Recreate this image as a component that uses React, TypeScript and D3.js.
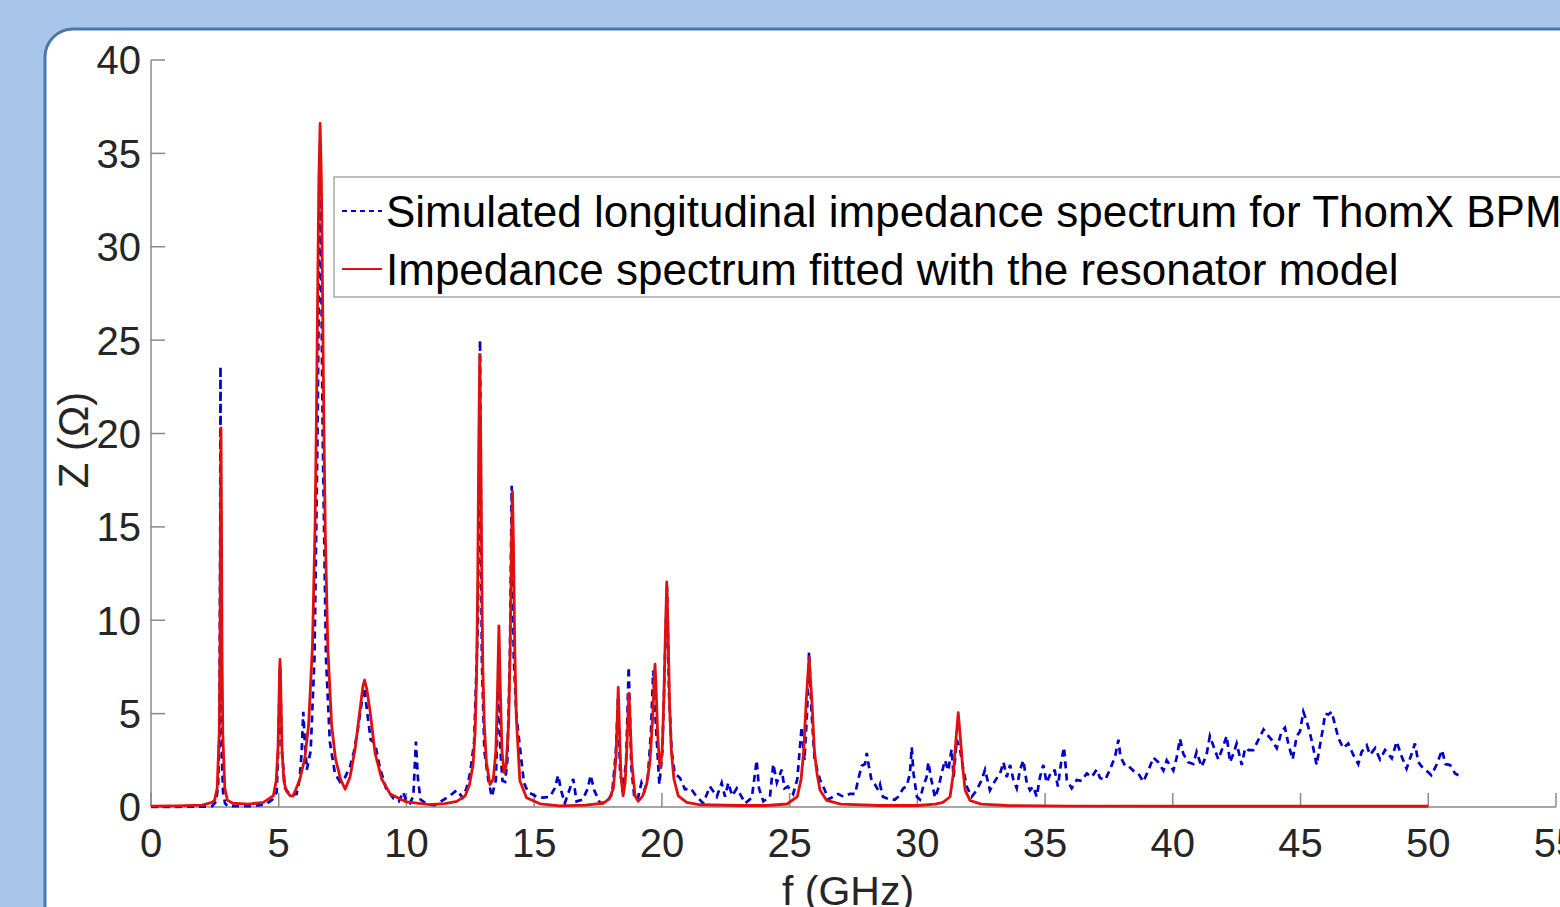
import React from "react";
import * as d3 from "d3";

// ---- data ----
const xTicks = [0, 5, 10, 15, 20, 25, 30, 35, 40, 45, 50, 55];
const yTicks = [0, 5, 10, 15, 20, 25, 30, 35, 40];

const legendLabels = [
  "Simulated longitudinal impedance spectrum for ThomX BPM",
  "Impedance spectrum fitted with the resonator model",
];

// simulated impedance (f GHz, Z ohm)
const simulated: [number, number][] = [
  [0, 0.01], [1, 0.01], [2, 0.02], [2.4, 0.05], [2.55, 0.3], [2.63, 1.2], [2.68, 4], [2.71, 15], [2.72, 23.6], [2.74, 12], [2.77, 3], [2.82, 0.8], [2.9, 0.2], [3.0, 0.05],
  [4.0, 0.05], [4.5, 0.15], [4.75, 0.4], [4.92, 0.8], [4.98, 3], [5.05, 7.6], [5.12, 3], [5.25, 1.0], [5.45, 0.65], [5.7, 0.7], [5.82, 1.5], [5.9, 3], [5.96, 5.1], [6.02, 3.5], [6.1, 2],
  [6.25, 3], [6.4, 8], [6.52, 20], [6.62, 35.5], [6.72, 20], [6.85, 8], [7.0, 3.5], [7.2, 1.8], [7.4, 1.35], [7.6, 1.6], [7.79, 2.15], [7.95, 3], [8.1, 4.2], [8.25, 5.6], [8.35, 6.4],
  [8.47, 5], [8.6, 3.6], [8.77, 3.4], [8.96, 2.1], [9.2, 1.0], [9.5, 0.45], [9.7, 0.3], [9.87, 0.8], [10.0, 0.3], [10.14, 0.2], [10.27, 0.6], [10.37, 3.5], [10.45, 1.5], [10.55, 0.4],
  [10.8, 0.15], [11.1, 0.1], [11.43, 0.37], [11.7, 0.6], [11.97, 0.9], [12.2, 0.5], [12.35, 1.0], [12.49, 1.8], [12.65, 3.5], [12.8, 10], [12.88, 25], [12.95, 8], [13.05, 3],
  [13.2, 1.5], [13.34, 0.55], [13.5, 1.45], [13.58, 5], [13.62, 8.5], [13.68, 3], [13.76, 1.4], [13.86, 1.35], [13.95, 2.5], [14.05, 8], [14.12, 17.2], [14.2, 8], [14.3, 5],
  [14.38, 3.96], [14.5, 2.5], [14.6, 1.3], [14.76, 0.8], [15.1, 0.55], [15.35, 0.5], [15.62, 0.55], [15.8, 1.0], [15.94, 1.7], [16.05, 0.9], [16.2, 0.2], [16.35, 0.8], [16.53, 1.5],
  [16.66, 0.3], [16.9, 0.4], [17.1, 1.0], [17.21, 1.7], [17.35, 0.9], [17.58, 0.2], [17.85, 0.3], [18.05, 0.7], [18.2, 3], [18.28, 5.8], [18.36, 2], [18.47, 0.8], [18.6, 2.5],
  [18.7, 7.5], [18.8, 2.2], [18.92, 0.5], [19.05, 0.4], [19.2, 1.3], [19.32, 0.9], [19.45, 1.6], [19.57, 4], [19.66, 7.3], [19.76, 4.5], [19.9, 1.2], [20.02, 3], [20.12, 8],
  [20.2, 11.8], [20.28, 6], [20.38, 3], [20.5, 1.8], [20.71, 1.55], [20.9, 0.95], [21.13, 1.0], [21.36, 0.55], [21.62, 0.2], [21.88, 1.1], [22.15, 0.55], [22.34, 1.3], [22.47, 0.55],
  [22.6, 1.3], [22.75, 0.6], [22.93, 1.0], [23.12, 0.55], [23.26, 0.2], [23.52, 0.5], [23.71, 2.5], [23.8, 1.0], [23.97, 0.3], [24.23, 0.55], [24.36, 2.3], [24.5, 1.3], [24.69, 2.0],
  [24.8, 1.0], [24.93, 1.1], [25.14, 0.7], [25.3, 1.5], [25.47, 4.3], [25.58, 2.5], [25.68, 5], [25.76, 8.3], [25.86, 5], [25.98, 2.5], [26.19, 1.45], [26.38, 0.9], [26.5, 0.4],
  [26.71, 0.55], [26.9, 0.7], [27.1, 0.55], [27.36, 0.7], [27.56, 0.7], [27.69, 1.5], [27.82, 2.2], [27.95, 2.3], [28.02, 2.9], [28.1, 2.2], [28.21, 1.4], [28.34, 1.2], [28.47, 0.9],
  [28.54, 1.2], [28.65, 0.55], [28.93, 0.4], [29.12, 0.4], [29.25, 0.55], [29.45, 1.0], [29.58, 1.1], [29.71, 1.8], [29.78, 3.2], [29.85, 1.8], [29.98, 0.55], [30.1, 0.4],
  [30.23, 1.1], [30.36, 1.6], [30.43, 2.4], [30.55, 1.45], [30.69, 0.5], [30.82, 1.0], [30.95, 1.8], [31.08, 2.5], [31.21, 1.95], [31.34, 3.1], [31.42, 1.6], [31.54, 3.6],
  [31.67, 3.1], [31.8, 2.0], [31.93, 1.1], [32.13, 0.55], [32.32, 0.9], [32.52, 1.45], [32.65, 2.0], [32.84, 0.9], [33.04, 1.4], [33.24, 1.8], [33.37, 2.4], [33.5, 1.6],
  [33.63, 2.25], [33.76, 1.45], [33.89, 1.0], [34.02, 2.0], [34.15, 2.5], [34.28, 1.3], [34.41, 0.9], [34.54, 1.1], [34.67, 0.55], [34.8, 1.6], [34.93, 2.25], [35.06, 1.3],
  [35.26, 1.95], [35.38, 1.95], [35.5, 1.1], [35.63, 2.4], [35.74, 3.2], [35.85, 1.45], [36.04, 1.0], [36.24, 1.45], [36.43, 1.4], [36.63, 1.8], [36.82, 1.6], [37.02, 2.0],
  [37.15, 1.55], [37.35, 1.45], [37.54, 2.0], [37.74, 2.7], [37.87, 3.6], [37.95, 2.7], [38.13, 2.2], [38.26, 2.2], [38.45, 1.95], [38.65, 1.8], [38.84, 1.35], [39.04, 1.95],
  [39.24, 2.65], [39.43, 2.4], [39.63, 1.95], [39.76, 2.5], [39.89, 2.25], [40.02, 1.95], [40.15, 2.65], [40.28, 3.65], [40.41, 2.85], [40.6, 2.4], [40.8, 2.3], [40.93, 2.95],
  [41.13, 2.15], [41.32, 2.8], [41.45, 3.8], [41.58, 3.3], [41.78, 2.55], [41.97, 3.25], [42.11, 3.8], [42.24, 2.4], [42.37, 2.85], [42.5, 3.4], [42.7, 2.25], [42.83, 3.15],
  [42.96, 3.05], [43.15, 3.05], [43.35, 3.6], [43.55, 4.15], [43.68, 3.9], [43.87, 3.6], [44.07, 3.15], [44.26, 4.05], [44.39, 4.25], [44.52, 3.4], [44.69, 2.55], [44.85, 3.8],
  [44.98, 4.05], [45.11, 5.1], [45.24, 4.6], [45.37, 3.95], [45.5, 3.15], [45.63, 2.25], [45.76, 3.3], [45.89, 4.3], [45.96, 5.0], [46.09, 4.95], [46.22, 5.1], [46.35, 4.4],
  [46.48, 3.7], [46.67, 3.15], [46.87, 3.4], [47.06, 2.8], [47.26, 2.3], [47.39, 2.95], [47.59, 3.3], [47.72, 2.8], [47.92, 3.15], [48.11, 2.55], [48.31, 3.05], [48.57, 2.6],
  [48.76, 3.5], [48.96, 2.7], [49.15, 2.05], [49.35, 2.85], [49.48, 3.4], [49.61, 2.4], [49.81, 2.05], [50.01, 1.85], [50.12, 1.7], [50.32, 2.25], [50.54, 3.05], [50.67, 2.3],
  [50.85, 2.25], [51.05, 1.8], [51.18, 1.7],
];

// resonator-model fit (f GHz, Z ohm)
const fitted: [number, number][] = [
  [0, 0.05], [1, 0.06], [2, 0.1], [2.4, 0.25], [2.49, 0.37], [2.59, 1.0], [2.67, 3.9], [2.7, 8.5], [2.72, 15.1], [2.74, 20.3], [2.76, 15.1], [2.78, 8.5], [2.81, 3.9], [2.89, 1.0],
  [2.99, 0.37], [3.2, 0.2], [3.8, 0.15], [4.4, 0.25], [4.79, 0.6], [4.9, 1.4], [4.97, 3.1], [5.0, 4.9], [5.03, 7.1], [5.05, 7.9], [5.07, 7.1], [5.1, 4.9], [5.13, 3.1], [5.2, 1.4],
  [5.3, 0.85], [5.45, 0.6], [5.57, 0.6], [5.83, 1.5], [6.02, 2.6], [6.17, 4.4], [6.32, 8.6], [6.42, 14.9], [6.47, 20.2], [6.52, 26.9], [6.57, 33.6], [6.62, 36.6], [6.67, 33.6],
  [6.72, 26.9], [6.77, 20.2], [6.82, 14.9], [6.92, 8.6], [7.07, 4.4], [7.22, 2.6], [7.42, 1.5], [7.6, 0.95], [7.79, 1.6], [7.99, 3.1], [8.18, 5.2], [8.3, 6.5], [8.36, 6.8],
  [8.45, 6.3], [8.57, 5.2], [8.77, 2.9], [9.03, 1.5], [9.36, 0.7], [10.0, 0.27], [10.9, 0.13], [11.5, 0.18], [11.97, 0.3], [12.3, 0.6], [12.47, 1.2], [12.61, 2.3], [12.69, 4.1],
  [12.75, 7.4], [12.79, 12.1], [12.83, 19.4], [12.87, 24.2], [12.91, 19.4], [12.95, 12.1], [12.99, 7.4], [13.05, 4.3], [13.13, 2.4], [13.27, 1.2], [13.4, 1.5], [13.5, 3],
  [13.56, 6], [13.62, 9.7], [13.68, 6], [13.74, 3], [13.82, 1.85], [13.9, 2.2], [14.0, 4.5], [14.06, 8.5], [14.11, 14], [14.15, 16.9], [14.19, 14], [14.24, 8.5], [14.3, 4.8],
  [14.44, 1.4], [14.7, 0.5], [15.23, 0.17], [16, 0.06], [17, 0.1], [17.7, 0.2], [17.95, 0.45], [18.1, 1.0], [18.2, 2.6], [18.26, 5], [18.29, 6.4], [18.33, 4.5], [18.4, 1.6],
  [18.48, 0.6], [18.56, 1.3], [18.63, 3.2], [18.68, 5.2], [18.71, 6.1], [18.75, 4.8], [18.82, 2.4], [18.95, 0.6], [19.07, 0.3], [19.25, 0.6], [19.4, 1.2], [19.53, 2.4],
  [19.64, 4.8], [19.7, 6.9], [19.73, 7.65], [19.77, 6.5], [19.83, 4], [19.9, 2.4], [19.95, 2.1], [20.02, 3.3], [20.08, 6], [20.14, 9.5], [20.19, 12.05], [20.24, 9.5], [20.3, 5.5],
  [20.37, 3], [20.47, 1.5], [20.64, 0.6], [20.97, 0.25], [21.5, 0.12], [23, 0.08], [24.1, 0.08], [24.9, 0.16], [25.3, 0.55], [25.45, 1.5], [25.55, 3], [25.65, 5.7], [25.76, 8.0],
  [25.87, 5.7], [25.97, 3], [26.07, 1.8], [26.19, 0.9], [26.45, 0.35], [27, 0.15], [28.5, 0.08], [30.0, 0.08], [30.7, 0.15], [31.0, 0.25], [31.28, 0.55], [31.41, 1.8],
  [31.51, 3.6], [31.6, 5.05], [31.69, 3.6], [31.77, 2.2], [31.87, 0.9], [32.06, 0.35], [32.5, 0.15], [33.5, 0.08], [36, 0.05], [40, 0.04], [50, 0.04],
];

// ---- layout ----
const W = 1560;
const H = 907;
const FONT = "'Liberation Sans', Arial, Helvetica, sans-serif";
const BLUE = "#0000c8";
const RED = "#e01010";
const AXIS = "#8a8a8a";
const TXT = "#262626";

export default function App() {
  const x = d3.scaleLinear().domain([0, 55]).range([151, 1556]);
  const y = d3.scaleLinear().domain([0, 40]).range([807, 60]);
  const line = d3
    .line<[number, number]>()
    .x((d) => x(d[0]))
    .y((d) => y(d[1]));

  const tickLen = 14;
  const legX = 334;
  const legY = 177;

  return (
    <svg
      width={W}
      height={H}
      viewBox={`0 0 ${W} ${H}`}
      style={{ position: "absolute", left: 0, top: 0, display: "block" }}
      fontFamily={FONT}
    >
      <rect x={0} y={0} width={W} height={H} fill="#a9c5e9" />
      <rect x={45} y={29} width={1700} height={1100} rx={28} ry={28} fill="#ffffff" stroke="#4a78aa" strokeWidth={3} />

      {/* axes */}
      <line x1={x(0)} y1={y(0)} x2={x(55)} y2={y(0)} stroke={AXIS} strokeWidth={1.5} />
      <line x1={x(0)} y1={y(0)} x2={x(0)} y2={y(40)} stroke={AXIS} strokeWidth={1.5} />
      {xTicks.map((t) => (
        <g key={"xt" + t}>
          <line x1={x(t)} x2={x(t)} y1={y(0)} y2={y(0) - tickLen} stroke={AXIS} strokeWidth={1.5} />
          <text x={x(t)} y={857} textAnchor="middle" fontSize={40} fill={TXT}>
            {t}
          </text>
        </g>
      ))}
      {yTicks.map((t) => (
        <g key={"yt" + t}>
          <line x1={x(0)} x2={x(0) + tickLen} y1={y(t)} y2={y(t)} stroke={AXIS} strokeWidth={1.5} />
          <text x={141} y={y(t)} dy="0.36em" textAnchor="end" fontSize={40} fill={TXT}>
            {t}
          </text>
        </g>
      ))}

      {/* axis labels */}
      <text x={848} y={905} textAnchor="middle" fontSize={41} fill={TXT}>
        f (GHz)
      </text>
      <text transform="translate(88,440) rotate(-90)" textAnchor="middle" fontSize={42} fill={TXT}>
        Z (Ω)
      </text>

      {/* series */}
      <path d={line(simulated) || ""} fill="none" stroke={BLUE} strokeWidth={2.7} strokeDasharray="7 5" />
      <path d={line(fitted) || ""} fill="none" stroke={RED} strokeWidth={2.8} strokeLinejoin="round" />

      {/* legend */}
      <rect x={legX} y={legY} width={1400} height={120} fill="#ffffff" stroke="#a8a8a8" strokeWidth={1.5} />
      <line x1={342} x2={382} y1={211} y2={211} stroke={BLUE} strokeWidth={2} strokeDasharray="5 4" />
      <line x1={342} x2={382} y1={269} y2={269} stroke={RED} strokeWidth={2} />
      <text x={386} y={211} dy="0.36em" fontSize={44} fill="#000">
        {legendLabels[0]}
      </text>
      <text x={386} y={269} dy="0.36em" fontSize={44} fill="#000">
        {legendLabels[1]}
      </text>
    </svg>
  );
}
